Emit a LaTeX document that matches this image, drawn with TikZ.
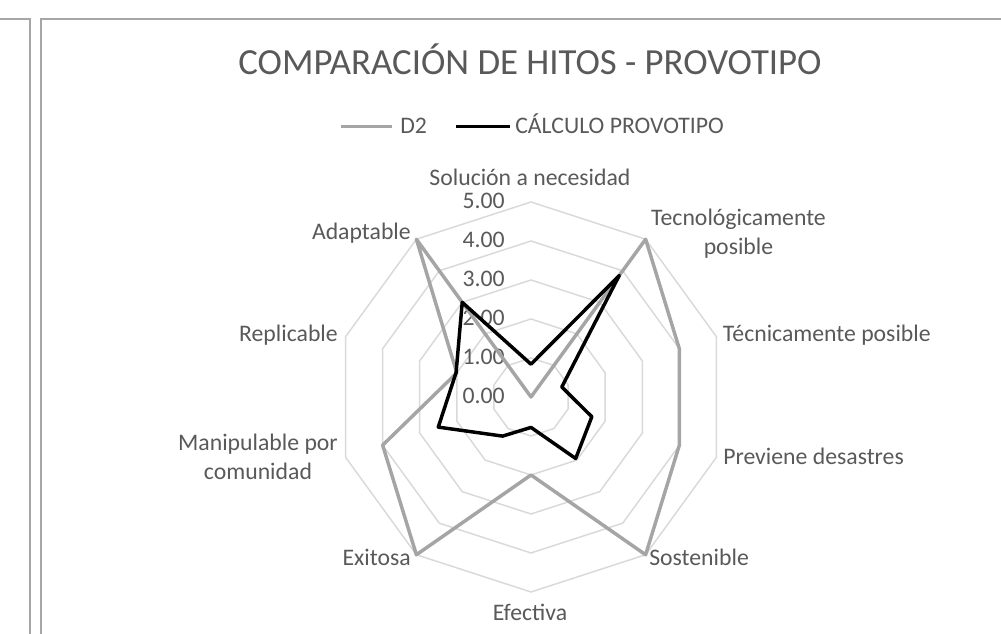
\documentclass[tikz,border=0pt]{standalone}
\usepackage{fontspec}
\setmainfont{Carlito}
\usepackage{tikz}
\definecolor{ringgray}{RGB}{217,217,217}
\definecolor{dtwogray}{RGB}{165,165,165}
\definecolor{textgray}{RGB}{89,89,89}
\definecolor{framegray}{RGB}{166,166,166}
\newcommand{\labelfont}{\fontsize{17.8}{22}\selectfont}
\newcommand{\titlefont}{\fontsize{27.6}{33}\selectfont}
\tikzset{
    common/.style={inner sep=0pt, text=textgray, font=\labelfont},
    axislabel/.style={common, anchor=base},
    ticklabel/.style={common, anchor=base east},
    ringline/.style={ringgray, line width=1.1pt},
    dtwo/.style={dtwogray, line width=2.6pt, line join=round},
    calc/.style={black, line width=2.6pt, line join=round},
    frame/.style={framegray, line width=1.1pt}
}

\begin{document}
\begin{tikzpicture}[x=0.75pt, y=0.75pt]
    \useasboundingbox (0,0) rectangle (1001,634);
    \draw[frame] (0,615) -- (30,615) -- (30,0);
    \draw[frame] (1001,615) -- (41,615) -- (41,0);

    \node[common, anchor=base, font=\titlefont] (title) at (530,559) {COMPARACIÓN DE HITOS - PROVOTIPO};

    \node[common, anchor=base west] (legD2) at (400,500) {D2};
    \node[common, anchor=base west] (legcalc) at (515,500) {CÁLCULO PROVOTIPO};
    \draw[dtwo] (341,507.3) -- (392,507.3);
    \draw[calc] (456,507.3) -- (510,507.3);

    \begin{scope}[shift={(531,237)}, scale=39]
        \foreach \r in {1,...,5}
            \draw[ringline] (90:\r) \foreach \i in {1,...,9} { -- ({90-36*\i}:\r) } -- cycle;
    \end{scope}

    \foreach \k in {0,...,5}
        \node[ticklabel] (tick\k) at (505,{230.5+39*\k}) {\k.00};

    \begin{scope}[shift={(531,237)}, scale=39]
        \draw[dtwo] (90:0) -- (54:5) -- (18:4) -- (-18:4) -- (-54:5) -- (-90:2)
            -- (-126:5) -- (-162:4) -- (162:2) -- (126:5) -- cycle;
        \draw[calc] (90:0.84) -- (54:3.85) -- (18:0.83) -- (-18:1.64) -- (-54:1.95) -- (-90:0.78)
            -- (-126:1.24) -- (-162:2.5) -- (162:2.02) -- (126:3) -- cycle;
    \end{scope}

    \node[axislabel] (solucion) at (530,448) {Solución a necesidad};
    \node[axislabel, align=center] (tecno) at (738.5,379) {Tecnológicamente\\posible};
    \node[axislabel, anchor=base west] (tecnica) at (722.7,292.3) {Técnicamente posible};
    \node[axislabel, anchor=base west] (previene) at (723,169) {Previene desastres};
    \node[axislabel, anchor=base west] (sostenible) at (649,68.3) {Sostenible};
    \node[axislabel] (efectiva) at (530,13.3) {Efectiva};
    \node[axislabel, anchor=base east] (exitosa) at (411,68) {Exitosa};
    \node[axislabel, align=center] (manipulable) at (258,154) {Manipulable por\\comunidad};
    \node[axislabel, anchor=base east] (replicable) at (338,292.3) {Replicable};
    \node[axislabel, anchor=base east] (adaptable) at (411,394) {Adaptable};
\end{tikzpicture}
\end{document}
